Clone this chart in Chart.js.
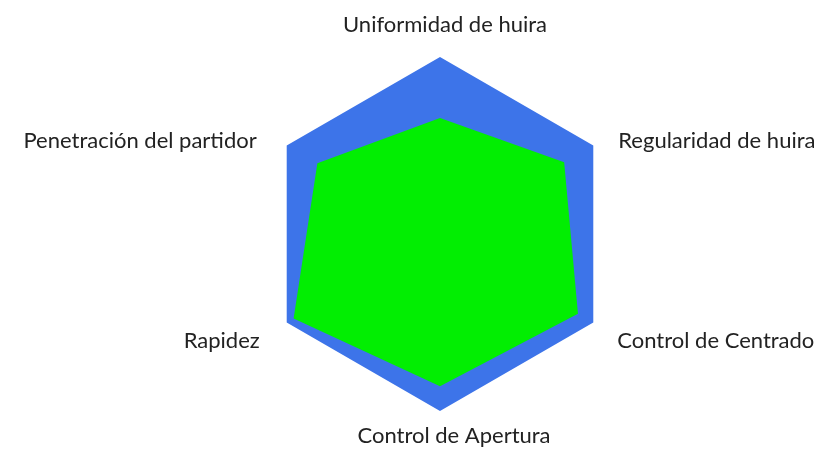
<!DOCTYPE html>
<html>
<head>
<meta charset="utf-8">
<script src="https://cdn.jsdelivr.net/npm/chart.js@4.4.1/dist/chart.umd.min.js"></script>
<style>
  html, body { margin: 0; padding: 0; background: #fff; }
  #wrap { width: 824px; height: 449px; }
</style>
</head>
<body>
<div id="wrap"><canvas id="radar"></canvas></div>
<script>
var categorias = ['Uniformidad de huira', 'Regularidad de huira', 'Control de Centrado',
  'Control de Apertura', 'Rapidez', 'Penetración del partidor'];
var valoresMaximo = [100, 100, 100, 100, 100, 100];
var valoresEvaluados = [65.5, 81, 90, 86, 95.5, 80];

// etiquetas dibujadas a mano: alineacion y desplazamiento respecto al vertice
var etiquetasAlign = ['center', 'left', 'left', 'center', 'right', 'right'];
var etiquetasOffset = [[5, -25], [25, 2], [24, 25], [14, 32], [-27, 25], [-30, 2]];

var etiquetasPlugin = {
  id: 'etiquetas',
  afterDraw: function (chart) {
    var scale = chart.scales.r;
    var c = chart.ctx;
    c.save();
    c.font = '22px Lato';
    c.fillStyle = '#222';
    c.textBaseline = 'alphabetic';
    chart.data.labels.forEach(function (label, i) {
      var p = scale.getPointPosition(i, scale.drawingArea);
      c.textAlign = etiquetasAlign[i];
      c.fillText(label, p.x + etiquetasOffset[i][0], p.y + etiquetasOffset[i][1]);
    });
    c.restore();
  }
};

var ctx = document.getElementById('radar').getContext('2d');
var radar = new Chart(ctx, {
  type: 'radar',
  data: {
    labels: categorias,
    datasets: [{
      label: 'Evaluado',
      data: valoresEvaluados,
      backgroundColor: 'rgb(2, 238, 2)',
      borderWidth: 0,
      pointRadius: 0
    }, {
      label: 'Máximo',
      data: valoresMaximo,
      backgroundColor: 'rgb(61, 116, 233)',
      borderWidth: 0,
      pointRadius: 0
    }]
  },
  options: {
    responsive: true,
    maintainAspectRatio: false,
    animation: false,
    layout: { padding: { top: 57, bottom: 38, left: 263, right: 207 } },
    plugins: { legend: { display: false }, tooltip: { enabled: false } },
    elements: { line: { tension: 0 } },
    scales: {
      r: {
        min: 0,
        max: 100,
        grid: { display: false },
        angleLines: { display: false },
        ticks: { display: false },
        pointLabels: { display: false }
      }
    }
  },
  plugins: [etiquetasPlugin]
});
</script>
</body>
</html>
